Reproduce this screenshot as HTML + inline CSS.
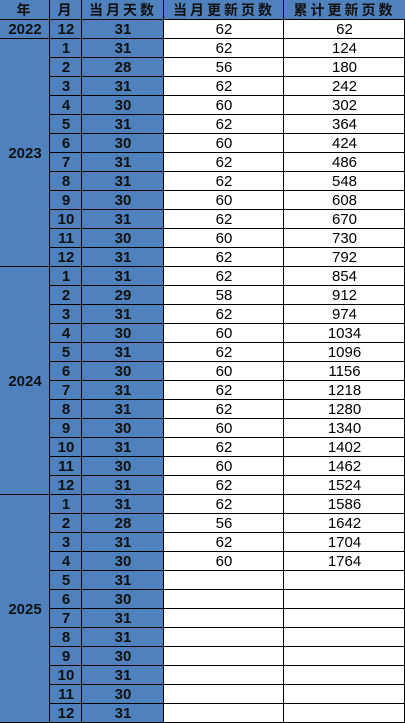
<!DOCTYPE html>
<html><head><meta charset="utf-8">
<style>
html,body{margin:0;padding:0;background:#fff;}
#t{position:relative;width:405px;height:723px;overflow:hidden;font-family:"Liberation Sans","Noto Sans CJK SC",sans-serif;}
.c{position:absolute;box-sizing:border-box;display:flex;align-items:center;justify-content:center;font-size:15px;color:#000;}
.b{background:#4f81bd;font-weight:bold;color:#111;}
.h{font-family:"Noto Sans CJK SC","WenQuanYi Zen Hei",sans-serif;font-weight:bold;font-size:14px;letter-spacing:3px;color:#111;}
.w{background:#fff;}
.ln{position:absolute;background:#000;}
</style></head>
<body>
<div id="t"></div>
<script>
const headers=["年","月","当月天数","当月更新页数","累计更新页数"];
const years=[2022,2023,2024,2025];
const yearMonths=[[12],[1,2,3,4,5,6,7,8,9,10,11,12],[1,2,3,4,5,6,7,8,9,10,11,12],[1,2,3,4,5,6,7,8,9,10,11,12]];
const days=[31,31,28,31,30,31,30,31,31,30,31,30,31,31,29,31,30,31,30,31,31,30,31,30,31,31,28,31,30,31,30,31,31,30,31,30,31];
const pages=[62,62,56,62,60,62,60,62,62,60,62,60,62,62,58,62,60,62,60,62,62,60,62,60,62,62,56,62,60];
const cumulative=[62,124,180,242,302,364,424,486,548,608,670,730,792,854,912,974,1034,1096,1156,1218,1280,1340,1402,1462,1524,1586,1642,1704,1764];

const T=document.getElementById('t');
const colX=[0,50,82,164,284,405];
const H0=20,RH=19;
function cell(x0,x1,y0,y1,txt,cls,name){
  const d=document.createElement('div');
  d.className='c '+cls;
  d.style.left=x0+'px';d.style.top=y0+'px';d.style.width=(x1-x0)+'px';d.style.height=(y1-y0)+'px';
  d.textContent=txt;
  
  
  T.appendChild(d);return d;
}
function line(x,y,w,h){
  const d=document.createElement('div');
  d.className='ln';
  d.style.left=x+'px';d.style.top=y+'px';d.style.width=w+'px';d.style.height=h+'px';
  
  
  T.appendChild(d);
}
for(let i=0;i<5;i++){cell(colX[i],colX[i+1],0,H0,headers[i],'b h','header-cell');}
let r=0;
for(let yi=0;yi<years.length;yi++){
  const n=yearMonths[yi].length;
  const y0=H0+r*RH;
  cell(0,50,y0,y0+n*RH,String(years[yi]),'b','year-cell');
  for(let m=0;m<n;m++){
    const yy=H0+(r+m)*RH;
    cell(50,82,yy,yy+RH,String(yearMonths[yi][m]),'b','month-cell');
    cell(82,164,yy,yy+RH,String(days[r+m]),'b','days-cell');
    cell(164,284,yy,yy+RH,pages[r+m]!==undefined?String(pages[r+m]):'','w','monthly-pages-cell');
    cell(284,405,yy,yy+RH,cumulative[r+m]!==undefined?String(cumulative[r+m]):'','w','cumulative-pages-cell');
  }
  line(0,H0+(r+n)*RH-1,405,1);
  r+=n;
}
line(0,H0-1,405,1);
for(let k=1;k<=r;k++){line(50,H0+k*RH-1,355,1);}
[50,82,164,284].forEach(x=>line(x-1,0,1,723));
line(404,H0,1,723);
</script>
</body></html>
